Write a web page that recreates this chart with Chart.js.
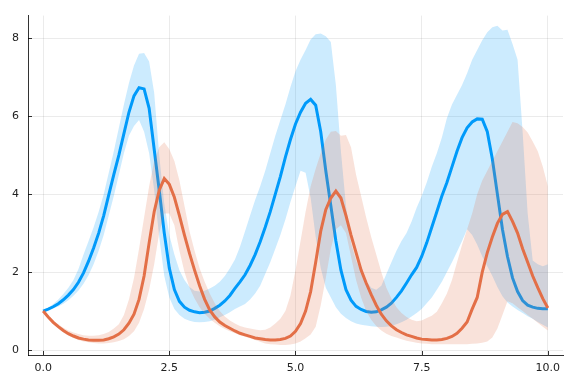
<!DOCTYPE html>
<html>
<head>
<meta charset="utf-8">
<script src="https://cdn.jsdelivr.net/npm/chart.js@4/dist/chart.umd.min.js"></script>
<style>
  html, body { margin: 0; padding: 0; background: #ffffff; }
</style>
</head>
<body>
<canvas id="chart" width="576" height="384"></canvas>
<script>
// time points of the ensemble summary
const times = [
  0.0, 0.1, 0.2, 0.3, 0.4, 0.5, 0.6, 0.7, 0.8, 0.9,
  1.0, 1.1, 1.2, 1.3, 1.4, 1.5, 1.6, 1.7, 1.8, 1.9,
  2.0, 2.1, 2.2, 2.3, 2.4, 2.5, 2.6, 2.7, 2.8, 2.9,
  3.0, 3.1, 3.2, 3.3, 3.4, 3.5, 3.6, 3.7, 3.8, 3.9,
  4.0, 4.1, 4.2, 4.3, 4.4, 4.5, 4.6, 4.7, 4.8, 4.9,
  5.0, 5.1, 5.2, 5.3, 5.4, 5.5, 5.6, 5.7, 5.8, 5.9,
  6.0, 6.1, 6.2, 6.3, 6.4, 6.5, 6.6, 6.7, 6.8, 6.9,
  7.0, 7.1, 7.2, 7.3, 7.4, 7.5, 7.6, 7.7, 7.8, 7.9,
  8.0, 8.1, 8.2, 8.3, 8.4, 8.5, 8.6, 8.7, 8.8, 8.9,
  9.0, 9.1, 9.2, 9.3, 9.4, 9.5, 9.6, 9.7, 9.8, 9.9,
  10.0
];

// series 1 (blue): mean and band
const blueMean = [
  1.00, 1.05, 1.11, 1.19, 1.29, 1.41, 1.55, 1.74, 1.98, 2.28,
  2.62, 3.00, 3.45, 3.98, 4.50, 5.00, 5.55, 6.10, 6.52, 6.73,
  6.70, 6.20, 5.15, 4.10, 3.00, 2.10, 1.55, 1.25, 1.10, 1.02,
  0.98, 0.96, 0.97, 1.00, 1.07, 1.15, 1.26, 1.40, 1.58, 1.75,
  1.93, 2.17, 2.45, 2.78, 3.15, 3.55, 4.00, 4.45, 4.95, 5.40,
  5.80, 6.10, 6.33, 6.43, 6.28, 5.60, 4.60, 3.70, 2.80, 2.05,
  1.55, 1.28, 1.12, 1.04, 0.99, 0.97, 0.98, 1.03, 1.10, 1.20,
  1.35, 1.52, 1.72, 1.93, 2.12, 2.40, 2.75, 3.15, 3.55, 3.95,
  4.30, 4.70, 5.10, 5.45, 5.70, 5.85, 5.93, 5.92, 5.60, 4.90,
  4.00, 3.10, 2.40, 1.85, 1.50, 1.27, 1.15, 1.10, 1.07, 1.06,
  1.06
];
const blueLow = [
  1.00, 1.03, 1.07, 1.12, 1.19, 1.28, 1.39, 1.53, 1.70, 1.92,
  2.20, 2.55, 2.95, 3.45, 3.95, 4.50, 5.05, 5.50, 5.75, 5.90,
  5.60, 5.05, 4.10, 2.90, 1.90, 1.35, 1.05, 0.90, 0.80, 0.75,
  0.72, 0.71, 0.72, 0.74, 0.78, 0.84, 0.90, 0.97, 1.05, 1.12,
  1.18, 1.30, 1.45, 1.65, 1.95, 2.25, 2.60, 2.95, 3.35, 3.80,
  4.20, 4.60, 4.55, 3.90, 2.90, 2.10, 1.60, 1.35, 1.10, 0.93,
  0.82, 0.74, 0.68, 0.65, 0.63, 0.61, 0.60, 0.59, 0.60, 0.62,
  0.66, 0.71, 0.78, 0.86, 0.95, 1.05, 1.20, 1.35, 1.55, 1.75,
  2.00, 2.25, 2.52, 2.80, 3.10, 2.95, 2.70, 2.40, 2.15, 1.90,
  1.62, 1.38, 1.22, 1.12, 1.03, 0.95, 0.87, 0.80, 0.72, 0.65,
  0.58
];
const blueHigh = [
  1.00, 1.08, 1.18, 1.30, 1.44, 1.60, 1.80, 2.08, 2.45, 2.80,
  3.15, 3.55, 4.00, 4.55, 5.10, 5.70, 6.30, 6.85, 7.30, 7.60,
  7.62, 7.40, 6.60, 5.00, 3.75, 2.95, 2.45, 2.05, 1.80, 1.62,
  1.52, 1.50, 1.52, 1.58, 1.65, 1.75, 1.90, 2.10, 2.32, 2.65,
  3.05, 3.45, 3.85, 4.20, 4.60, 5.05, 5.50, 5.90, 6.30, 6.75,
  7.15, 7.45, 7.70, 7.97, 8.10, 8.12, 8.05, 7.90, 6.80, 5.10,
  3.70, 2.75, 2.30, 2.00, 1.78, 1.60, 1.55, 1.65, 1.95, 2.25,
  2.55, 2.80, 3.00, 3.30, 3.65, 3.95, 4.30, 4.70, 5.05, 5.45,
  5.95, 6.30, 6.55, 6.80, 7.10, 7.45, 7.70, 7.95, 8.15, 8.28,
  8.32, 8.20, 8.22, 7.85, 7.45, 5.60, 3.50, 2.30, 2.20, 2.15,
  2.20
];

// series 2 (orange): mean and band
const orangeMean = [
  1.00, 0.85, 0.71, 0.60, 0.50, 0.42, 0.36, 0.31, 0.28, 0.26,
  0.25, 0.25, 0.26, 0.29, 0.34, 0.41, 0.52, 0.69, 0.92, 1.30,
  1.90, 2.75, 3.55, 4.10, 4.40, 4.25, 3.92, 3.45, 2.95, 2.48,
  2.05, 1.65, 1.30, 1.03, 0.85, 0.72, 0.63, 0.56, 0.49, 0.43,
  0.39, 0.35, 0.31, 0.29, 0.27, 0.26, 0.26, 0.27, 0.30, 0.36,
  0.48, 0.68, 1.00, 1.50, 2.25, 3.05, 3.60, 3.90, 4.08, 3.90,
  3.45, 2.95, 2.50, 2.05, 1.72, 1.42, 1.15, 0.92, 0.75, 0.62,
  0.52, 0.45, 0.39, 0.35, 0.31, 0.28, 0.27, 0.26, 0.26, 0.27,
  0.30, 0.35, 0.43, 0.56, 0.72, 1.05, 1.35, 2.00, 2.50, 2.90,
  3.25, 3.48, 3.55, 3.30, 3.00, 2.60, 2.25, 1.90, 1.60, 1.32,
  1.08
];
const orangeLow = [
  1.00, 0.82, 0.67, 0.55, 0.45, 0.37, 0.31, 0.26, 0.22, 0.20,
  0.18, 0.17, 0.17, 0.18, 0.20, 0.23, 0.28, 0.36, 0.48, 0.70,
  1.05, 1.55, 2.20, 3.00, 3.50, 3.50, 3.20, 2.55, 2.00, 1.60,
  1.32, 1.10, 0.93, 0.80, 0.70, 0.61, 0.54, 0.48, 0.43, 0.38,
  0.34, 0.30, 0.26, 0.21, 0.17, 0.15, 0.14, 0.13, 0.13, 0.14,
  0.17, 0.22, 0.30, 0.40, 0.60, 1.15, 1.85, 2.60, 3.10, 3.20,
  3.00, 2.40, 1.80, 1.35, 1.00, 0.78, 0.62, 0.50, 0.42, 0.36,
  0.32, 0.28, 0.24, 0.21, 0.19, 0.17, 0.16, 0.15, 0.15, 0.15,
  0.15, 0.15, 0.15, 0.15, 0.15, 0.16, 0.17, 0.19, 0.22, 0.32,
  0.55, 0.90, 1.25, 1.20, 1.10, 1.00, 0.90, 0.80, 0.70, 0.60,
  0.50
];
const orangeHigh = [
  1.00, 0.88, 0.76, 0.66, 0.57, 0.50, 0.45, 0.41, 0.38, 0.37,
  0.37, 0.38, 0.41, 0.46, 0.55, 0.66, 0.90, 1.30, 1.85, 2.60,
  3.40, 4.20, 4.85, 5.20, 5.33, 5.15, 4.85, 4.35, 3.70, 3.05,
  2.55, 2.10, 1.75, 1.45, 1.20, 1.00, 0.86, 0.76, 0.68, 0.62,
  0.58, 0.55, 0.53, 0.51, 0.52, 0.58, 0.68, 0.80, 1.00, 1.40,
  2.05, 2.80, 3.55, 4.20, 4.65, 5.05, 5.40, 5.60, 5.62, 5.50,
  5.52, 5.20, 4.50, 3.95, 3.40, 2.90, 2.45, 2.00, 1.60, 1.32,
  1.10, 0.95, 0.85, 0.78, 0.74, 0.76, 0.82, 0.88, 0.98, 1.20,
  1.45, 1.80, 2.25, 2.70, 3.10, 3.50, 4.00, 4.35, 4.60, 4.85,
  5.10, 5.35, 5.60, 5.85, 5.82, 5.72, 5.58, 5.35, 5.10, 4.70,
  4.20
];

// axis ticks
const xTicks = [0, 2.5, 5, 7.5, 10];
const xTickLabels = ['0.0', '2.5', '5.0', '7.5', '10.0'];
const yTicks = [0, 2, 4, 6, 8];
const yTickLabels = ['0', '2', '4', '6', '8'];

const BLUE = 'rgb(0, 154, 250)';
const BLUE_BAND = 'rgba(0, 154, 250, 0.2)';
const ORANGE = 'rgb(227, 111, 71)';
const ORANGE_BAND = 'rgba(227, 111, 71, 0.2)';

const pts = (ys) => times.map((t, i) => ({ x: t, y: ys[i] }));

function bandLine(ys, color, fill, order) {
  return {
    data: pts(ys),
    borderWidth: 0,
    borderColor: 'rgba(0,0,0,0)',
    backgroundColor: color,
    pointRadius: 0,
    fill: fill,
    order: order
  };
}

function meanLine(ys, color, order) {
  return {
    data: pts(ys),
    borderWidth: 3,
    borderColor: color,
    pointRadius: 0,
    fill: false,
    tension: 0,
    order: order
  };
}

// small inward tick marks, Julia style
const innerTicks = {
  id: 'innerTicks',
  afterDatasetsDraw(chart) {
    const { ctx, chartArea, scales } = chart;
    ctx.save();
    ctx.strokeStyle = 'rgba(0,0,0,0.8)';
    ctx.lineWidth = 1;
    ctx.beginPath();
    xTicks.forEach(v => {
      const px = Math.round(scales.x.getPixelForValue(v)) + 0.5;
      ctx.moveTo(px, chartArea.bottom);
      ctx.lineTo(px, chartArea.bottom - 4);
    });
    yTicks.forEach(v => {
      const py = Math.round(scales.y.getPixelForValue(v)) + 0.5;
      ctx.moveTo(chartArea.left, py);
      ctx.lineTo(chartArea.left + 4, py);
    });
    ctx.stroke();
    ctx.restore();
  }
};

const ctx = document.getElementById('chart').getContext('2d');
const chart = new Chart(ctx, {
  type: 'line',
  data: {
    datasets: [
      bandLine(blueHigh, BLUE_BAND, '+1', 5),
      bandLine(blueLow, BLUE_BAND, false, 5),
      meanLine(blueMean, BLUE, 4),
      bandLine(orangeHigh, ORANGE_BAND, '+1', 3),
      bandLine(orangeLow, ORANGE_BAND, false, 3),
      meanLine(orangeMean, ORANGE, 2)
    ]
  },
  options: {
    responsive: false,
    animation: false,
    devicePixelRatio: 1,
    layout: { padding: { top: 12, right: 13, left: 0, bottom: 0 } },
    plugins: {
      legend: { display: false },
      tooltip: { enabled: false }
    },
    scales: {
      x: {
        type: 'linear',
        min: -0.3,
        max: 10.3,
        afterBuildTicks: (scale) => { scale.ticks = xTicks.map(v => ({ value: v })); },
        afterFit: (scale) => { scale.height = 29; },
        ticks: {
          padding: 7,
          color: '#222',
          font: { family: 'DejaVu Sans', size: 11 },
          maxRotation: 0,
          callback: (v) => xTickLabels[xTicks.indexOf(v)]
        },
        grid: { color: 'rgba(0,0,0,0.08)', lineWidth: 1, drawTicks: false },
        border: { display: true, color: 'rgba(0,0,0,0.8)', width: 1 }
      },
      y: {
        type: 'linear',
        min: -0.127,
        max: 8.58,
        afterBuildTicks: (scale) => { scale.ticks = yTicks.map(v => ({ value: v })); },
        afterFit: (scale) => { scale.width = 28; },
        ticks: {
          padding: 9,
          color: '#222',
          font: { family: 'DejaVu Sans', size: 11 },
          callback: (v) => yTickLabels[yTicks.indexOf(v)]
        },
        grid: { color: 'rgba(0,0,0,0.08)', lineWidth: 1, drawTicks: false },
        border: { display: true, color: 'rgba(0,0,0,0.8)', width: 1 }
      }
    }
  },
  plugins: [innerTicks]
});
</script>
</body>
</html>
